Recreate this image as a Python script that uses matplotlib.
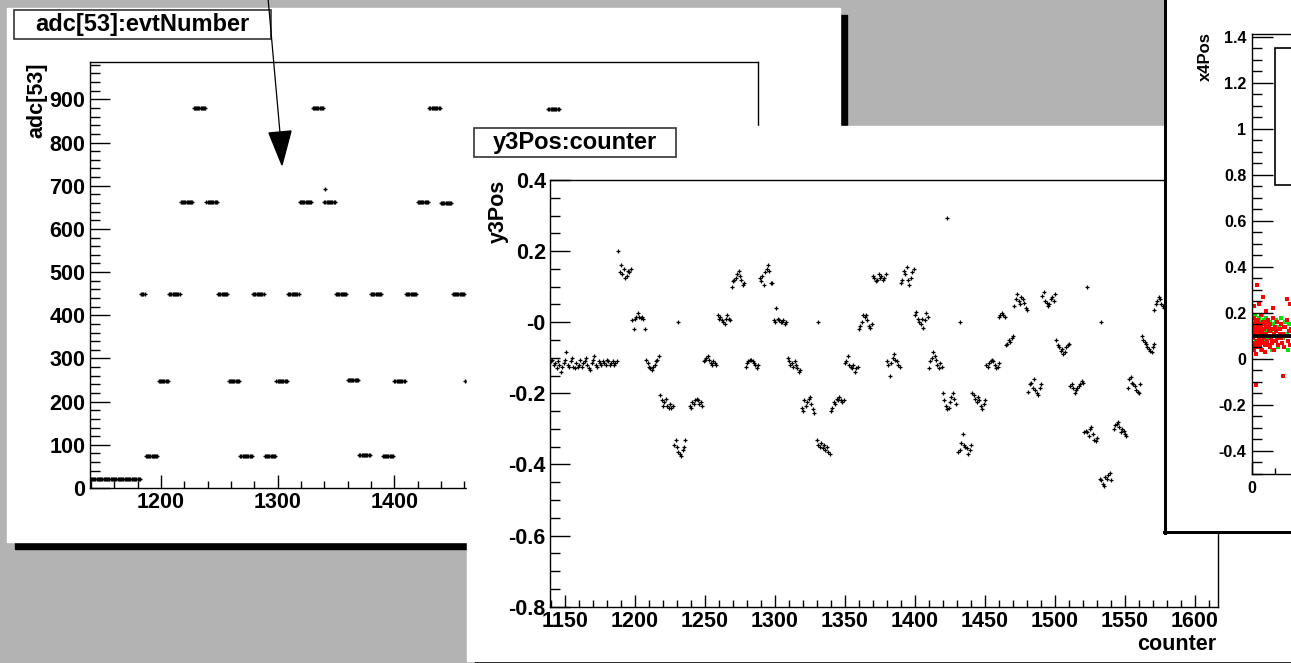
import matplotlib
matplotlib.use("Agg")
import matplotlib.pyplot as plt
from matplotlib.patches import Rectangle, Polygon
from matplotlib.ticker import MultipleLocator, FixedLocator, FuncFormatter

plt.rcParams["font.family"] = ["Liberation Sans", "DejaVu Sans"]
plt.rcParams["font.weight"] = "bold"

W, H = 1291, 663
GREY = "#b3b3b3"
PT = 0.72  # points per pixel at dpi 100

# ---- canvas 1: adc[53]:evtNumber, stored as runs of constant adc ----
adc_first = [1140, 1183, 1187, 1198, 1207, 1217, 1228, 1239, 1249, 1258, 1268,
             1279, 1289, 1299, 1309, 1319, 1330, 1340, 1350, 1360, 1370, 1380,
             1390, 1400, 1410, 1420, 1430, 1440, 1450, 1461, 1532]
adc_last = [1182, 1186, 1197, 1206, 1216, 1227, 1238, 1248, 1257, 1267, 1278,
            1288, 1298, 1308, 1318, 1329, 1339, 1349, 1359, 1369, 1379, 1389,
            1399, 1409, 1419, 1429, 1439, 1449, 1460, 1470, 1541]
adc_level = [21, 450, 75, 248, 450, 662, 880, 662, 450, 248, 75,
             450, 75, 248, 450, 662, 880, 662, 450, 249, 77, 450,
             75, 248, 450, 662, 880, 660, 450, 248, 878]
adc_odd_x = [1341]
adc_odd_y = [692]

# ---- canvas 2: y3Pos:counter ----
ped_start = 1140
ped_y = [-0.11, -0.105, -0.12, -0.115, -0.13, -0.11, -0.12, -0.14, -0.125, -0.115,
         -0.105, -0.085, -0.12, -0.125, -0.11, -0.1, -0.125, -0.13, -0.115, -0.125,
         -0.12, -0.105, -0.125, -0.115, -0.11, -0.1, -0.12, -0.13, -0.135, -0.115,
         -0.105, -0.095, -0.12, -0.125, -0.11, -0.115, -0.12, -0.11, -0.115, -0.12,
         -0.105, -0.11, -0.12, -0.115, -0.11, -0.12, -0.115, -0.11]
y3_start = [1188, 1198, 1208, 1218, 1228, 1239, 1249, 1259, 1269, 1279,
            1289, 1299, 1309, 1319, 1330, 1340, 1350, 1360, 1370, 1380,
            1390, 1400, 1410, 1420, 1431, 1441, 1451, 1460, 1465, 1471,
            1481, 1491, 1501, 1511, 1521, 1532, 1542, 1552, 1562, 1571]
y3_vals = [
    [0.20, 0.14, 0.16, 0.135, 0.15, 0.125, 0.13, 0.145, 0.14, 0.15],
    [0.005, -0.018, 0.008, 0.015, 0.025, 0.015, 0.012, 0.015, 0.01, -0.02],
    [-0.105, -0.115, -0.125, -0.13, -0.135, -0.125, -0.12, -0.11, -0.105, -0.095],
    [-0.205, -0.22, -0.235, -0.225, -0.215, -0.235, -0.24, -0.23, -0.24, -0.235],
    [-0.345, -0.33, -0.35, -0.365, -0.37, -0.375, -0.36, -0.35, -0.33],
    [-0.235, -0.24, -0.225, -0.23, -0.22, -0.215, -0.22, -0.23, -0.225, -0.235],
    [-0.11, -0.105, -0.1, -0.095, -0.105, -0.115, -0.12, -0.11, -0.115, -0.12],
    [0.02, 0.01, 0.015, 0.005, 0.0, -0.005, 0.01, 0.02, 0.01, 0.005],
    [0.10, 0.115, 0.12, 0.125, 0.135, 0.145, 0.13, 0.12, 0.105, 0.11],
    [-0.125, -0.115, -0.11, -0.105, -0.105, -0.11, -0.115, -0.12, -0.13, -0.12],
    [0.125, 0.115, 0.13, 0.105, 0.14, 0.15, 0.16, 0.145, 0.11, 0.11],
    [0.005, 0.0, 0.04, 0.01, 0.005, 0.0, 0.002, 0.005, -0.005, 0.0],
    [-0.1, -0.11, -0.12, -0.115, -0.125, -0.11, -0.12, -0.13, -0.14, -0.135],
    [-0.24, -0.25, -0.22, -0.235, -0.225, -0.215, -0.21, -0.23, -0.245, -0.255],
    [-0.33, -0.345, -0.35, -0.34, -0.355, -0.345, -0.36, -0.35, -0.365, -0.37],
    [-0.25, -0.24, -0.225, -0.23, -0.215, -0.22, -0.21, -0.22, -0.225, -0.22],
    [-0.115, -0.11, -0.095, -0.12, -0.125, -0.13, -0.12, -0.14, -0.13, -0.125],
    [-0.02, -0.01, 0.0, 0.02, 0.015, 0.02, 0.005, -0.01, -0.015, -0.005],
    [0.13, 0.125, 0.115, 0.12, 0.135, 0.125, 0.13, 0.12, 0.125, 0.135],
    [-0.11, -0.12, -0.15, -0.115, -0.1, -0.09, -0.105, -0.11, -0.12, -0.125],
    [0.11, 0.12, 0.145, 0.135, 0.155, 0.12, 0.105, 0.125, 0.14, 0.15],
    [0.02, 0.03, 0.01, 0.0, -0.005, 0.01, -0.015, 0.005, 0.025, 0.015],
    [-0.13, -0.11, -0.1, -0.085, -0.095, -0.105, -0.12, -0.13, -0.115, -0.125],
    [-0.2, -0.22, -0.235, -0.245, -0.24, -0.225, -0.21, -0.2, -0.215, -0.23],
    [-0.365, -0.36, -0.34, -0.315, -0.345, -0.35, -0.355, -0.37, -0.36, -0.345],
    [-0.2, -0.205, -0.215, -0.225, -0.21, -0.22, -0.235, -0.245, -0.23, -0.22],
    [-0.12, -0.125, -0.115, -0.11, -0.105, -0.11, -0.12, -0.13, -0.125, -0.115],
    [0.015, 0.02, 0.025, 0.02, 0.015],
    [-0.065, -0.06, -0.05, -0.055, -0.045, -0.04],
    [0.045, 0.065, 0.08, 0.06, 0.05, 0.07, 0.065, 0.055, 0.04, 0.035],
    [-0.195, -0.175, -0.17, -0.185, -0.16, -0.19, -0.2, -0.205, -0.185, -0.175],
    [0.075, 0.085, 0.06, 0.055, 0.045, 0.05, 0.065, 0.07, 0.06, 0.08],
    [-0.05, -0.065, -0.07, -0.08, -0.075, -0.09, -0.085, -0.07, -0.065, -0.06],
    [-0.18, -0.175, -0.185, -0.2, -0.19, -0.185, -0.18, -0.175, -0.165, -0.17],
    [-0.31, -0.305, -0.31, -0.32, -0.3, -0.295, -0.315, -0.33, -0.335, -0.325],
    [-0.44, -0.445, -0.455, -0.46, -0.435, -0.44, -0.43, -0.425, -0.445],
    [-0.3, -0.29, -0.285, -0.28, -0.295, -0.31, -0.3, -0.305, -0.315, -0.32],
    [-0.185, -0.16, -0.155, -0.17, -0.175, -0.18, -0.19, -0.195, -0.2, -0.175],
    [-0.04, -0.05, -0.055, -0.06, -0.07, -0.075, -0.08, -0.085, -0.07, -0.06],
    [0.035, 0.05, 0.06, 0.07, 0.065, 0.05, 0.045, 0.04, 0.05, 0.06],
]
y3_single_x = [1231, 1331, 1423, 1432, 1523, 1533]
y3_single_y = [0.0, 0.0, 0.294, 0.0, 0.098, 0.0]

# ---- canvas 3: x4Pos (only the left edge is on screen) ----
red_pts = [(1, 0.12), (3, 0.06), (4, 0.15), (6, 0.09), (7, 0.18), (9, 0.04), (11, 0.11),
           (12, 0.14), (14, 0.07), (16, 0.16), (17, 0.10), (19, 0.02), (21, 0.13),
           (23, 0.08), (24, 0.17), (26, 0.05), (28, 0.12), (30, 0.15), (31, 0.09),
           (33, 0.11), (35, 0.06), (37, 0.14), (38, 0.19), (40, 0.08), (42, 0.12),
           (44, 0.04), (46, 0.10), (48, 0.16), (50, 0.07), (52, 0.13), (54, 0.09),
           (56, 0.15), (58, 0.03), (60, 0.11), (63, 0.14), (65, 0.08), (68, 0.17),
           (70, 0.06), (73, 0.12), (75, 0.10), (78, 0.05), (80, 0.15), (83, 0.09),
           (86, 0.13), (88, 0.07), (91, 0.18), (94, 0.11), (97, 0.04), (100, 0.14),
           (103, 0.08), (106, 0.12), (110, 0.16), (113, 0.06), (117, 0.10), (120, 0.13),
           (124, 0.09), (128, 0.15), (132, 0.07), (136, 0.11), (140, 0.05), (144, 0.14),
           (148, 0.10), (152, 0.17), (157, 0.08), (161, 0.12), (165, 0.06), (169, 0.13),
           (2, 0.09), (8, 0.13), (13, 0.06), (15, 0.12), (22, 0.10), (27, 0.14),
           (32, 0.07), (36, 0.11), (41, 0.15), (45, 0.08), (53, 0.11), (57, 0.06),
           (61, 0.16), (67, 0.10), (72, 0.14), (79, 0.12), (85, 0.08), (96, 0.13),
           (108, 0.09), (122, 0.11), (138, 0.14), (155, 0.10),
           (20, 0.32), (48, 0.27), (18, -0.115), (135, -0.075), (152, 0.26),
           (10, 0.23), (30, 0.24), (90, 0.22), (62, 0.21), (165, 0.24)]
green_pts = [(2, 0.17), (5, 0.10), (8, 0.13), (10, 0.05), (13, 0.19), (15, 0.12),
             (18, 0.08), (22, 0.15), (25, 0.11), (27, 0.06), (29, 0.18), (32, 0.13),
             (34, 0.09), (36, 0.16), (39, 0.04), (41, 0.14), (45, 0.19), (47, 0.08),
             (51, 0.17), (55, 0.12), (59, 0.18), (62, 0.06), (66, 0.15), (71, 0.09),
             (77, 0.16), (82, 0.12), (87, 0.04), (92, 0.15), (98, 0.10), (105, 0.17),
             (112, 0.05), (118, 0.14), (126, 0.18), (134, 0.09), (142, 0.16),
             (150, 0.11), (158, 0.04), (163, 0.15), (168, 0.10)]
x4_mean = 0.1


def frac(x0, y0, x1, y1):
    return [x0 / W, 1 - y1 / H, (x1 - x0) / W, (y1 - y0) / H]


def layer():
    a = fig.add_axes([0, 0, 1, 1])
    a.set_xlim(0, W)
    a.set_ylim(H, 0)
    a.set_axis_off()
    return a


def root_style(ax, xt, yt, fs, xpad, ypad):
    ax.patch.set_visible(False)
    for s in ax.spines.values():
        s.set_color("black")
        s.set_linewidth(1.0)
    ax.xaxis.set_major_locator(MultipleLocator(xt[0]))
    ax.xaxis.set_minor_locator(MultipleLocator(xt[1]))
    ax.yaxis.set_major_locator(MultipleLocator(yt[0]))
    ax.yaxis.set_minor_locator(MultipleLocator(yt[1]))
    ax.tick_params(which="both", direction="in", top=False, right=False,
                   width=1.0, color="black")
    ax.tick_params(axis="x", which="major", length=xt[2] * PT, pad=xpad, labelsize=fs)
    ax.tick_params(axis="x", which="minor", length=xt[3] * PT)
    ax.tick_params(axis="y", which="major", length=yt[2] * PT, pad=ypad, labelsize=fs)
    ax.tick_params(axis="y", which="minor", length=yt[3] * PT)


def root_fmt(v, _):
    if abs(v) < 1e-9:
        return "-0"
    return f"{v:g}"


fig = plt.figure(figsize=(W / 100, H / 100), dpi=100, facecolor=GREY)
FS = 15.5

# canvas 1
L1 = layer()
L1.add_patch(Rectangle((15, 15), 832, 534, color="black"))
L1.add_patch(Rectangle((7, 8), 833, 534, color="white"))
L1.text(37, 62, "adc[53]", rotation=90, ha="center", va="top", fontsize=FS)

ax1 = fig.add_axes(frac(90, 62, 757.7, 488))
ex, ey = [], []
for f, l, v in zip(adc_first, adc_last, adc_level):
    ex.extend(range(f, l + 1))
    ey.extend([v] * (l - f + 1))
ax1.plot(ex + adc_odd_x, ey + adc_odd_y, ls="none", marker="+", ms=3.5, mew=1.0, color="black")
ax1.set_xlim(1139.3, 1711.4)
ax1.set_ylim(0, 986.5)
root_style(ax1, (100, 20, 13, 7), (100, 20, 20, 10), FS, 3, 3.5)

L1b = layer()
L1b.add_patch(Rectangle((14, 10), 257, 29, fill=False, ec="#333333", lw=1.2))
L1b.text(142.5, 25, "adc[53]:evtNumber", ha="center", va="center", fontsize=17)
L1b.plot([268, 280], [-2, 133], color="black", lw=0.9)
L1b.add_patch(Polygon([[269, 133], [291, 131], [282, 165]], closed=True, color="black"))

# canvas 2
L2 = layer()
L2.add_patch(Rectangle((475, 133), 1000, 600, color="black"))
L2.add_patch(Rectangle((467, 126), 1000, 535, color="white"))
L2.add_patch(Rectangle((474, 128), 202, 29, fill=False, ec="#333333", lw=1.2))
L2.text(575, 143, "y3Pos:counter", ha="center", va="center", fontsize=17)
L2.text(498, 180, "y3Pos", rotation=90, ha="center", va="top", fontsize=FS)
L2.text(1216, 645, "counter", ha="right", va="center", fontsize=FS)

ax2 = fig.add_axes(frac(550, 180, 1217.7, 606.7))
for s, vals in zip(y3_start, y3_vals):
    ax2.plot(range(s, s + len(vals)), vals, ls="none", marker="+", ms=3.3, mew=0.9, color="black")
ax2.plot(range(ped_start, ped_start + len(ped_y)), ped_y, ls="none", marker="+",
         ms=3.3, mew=0.9, color="black")
ax2.plot(y3_single_x, y3_single_y, ls="none", marker="+", ms=3.3, mew=0.9, color="black")
ax2.set_xlim(1139.3, 1616.2)
ax2.set_ylim(-0.8, 0.4)
root_style(ax2, (50, 10, 12, 7), (0.2, 0.05, 20, 10), FS, 3, 3)
ax2.yaxis.set_major_formatter(FuncFormatter(root_fmt))

# canvas 3
L3 = layer()
L3.add_patch(Rectangle((1165, -10), 200, 542, color="white"))
L3.plot([1165, 1165], [-5, 533], color="black", lw=3 * PT)
L3.plot([1164, 1300], [532, 532], color="black", lw=3 * PT)
L3.text(1205, 32, "x4Pos", rotation=90, ha="center", va="top", fontsize=12)

ax3 = fig.add_axes(frac(1252, 34, 1712, 474))
ax3.scatter([p[0] for p in green_pts], [p[1] for p in green_pts], s=7, marker="s",
            color="#00e000", linewidths=0)
ax3.scatter([p[0] for p in red_pts], [p[1] for p in red_pts], s=7, marker="s",
            color="#ff0000", linewidths=0)
ax3.axhline(x4_mean, color="black", lw=2.6)
ax3.set_xlim(0, 2000)
ax3.set_ylim(-0.5, 1.413)
root_style(ax3, (500, 100, 12, 6), (0.2, 0.05, 21, 10), 11.5, 5, 4)
ax3.xaxis.set_major_locator(FixedLocator([0]))
ax3.yaxis.set_major_formatter(FuncFormatter(lambda v, _: f"{v + 0.0:g}" if abs(v) > 1e-9 else "0"))

L3b = layer()
L3b.add_patch(Rectangle((1275, 48), 100, 137, facecolor="white", ec="black", lw=1.2))

fig.savefig("out.png", dpi=100, facecolor=GREY)
